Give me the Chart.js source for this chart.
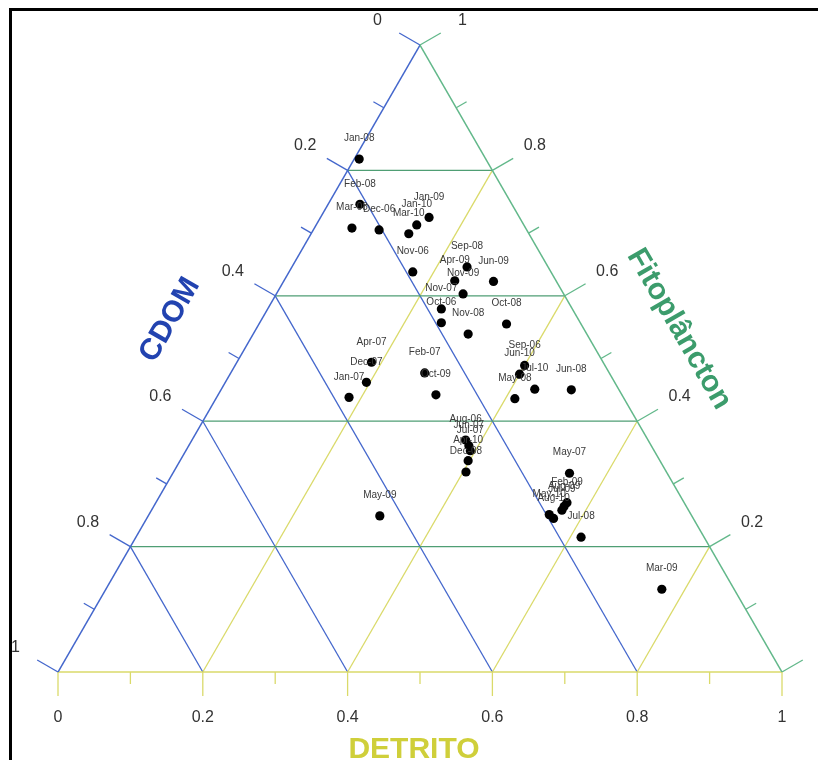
<!DOCTYPE html>
<html>
<head>
<meta charset="utf-8">
<script src="https://cdn.jsdelivr.net/npm/chart.js@4.4.0/dist/chart.umd.min.js"></script>
<style>
  html, body { margin: 0; padding: 0; background: #ffffff; }
  #wrap { width: 818px; height: 760px; }
</style>
</head>
<body>
<div id="wrap"><canvas id="tern" width="818" height="760"></canvas></div>
<script>
// Monthly samples: fractions of light absorption by CDOM, phytoplankton and detritus
const months = [
  'Jan-08','Feb-08','Mar-08','Dec-06','Mar-10','Jan-10','Jan-09','Nov-06',
  'Sep-08','Apr-09','Jun-09','Nov-09','Nov-07','Oct-06','Nov-08','Oct-08',
  'Apr-07','Dec-07','Jan-07','Feb-07','Oct-09','Sep-06','Jun-10','Jul-10',
  'May-08','Jun-08','Aug-06','Jun-07','Jul-07','Apr-10','Dec-08','May-07',
  'Feb-09','Aug-09','Jul-09','May-10','Aug-10','Jul-08','May-09','Mar-09'
];
const cdom = [
  0.175, 0.210, 0.240, 0.204, 0.166, 0.148, 0.125, 0.191,
  0.112, 0.140, 0.087, 0.139, 0.181, 0.192, 0.164, 0.103,
  0.320, 0.343, 0.379, 0.255, 0.257, 0.111, 0.125, 0.116,
  0.151, 0.066, 0.252, 0.252, 0.254, 0.265, 0.277, 0.135,
  0.162, 0.169, 0.175, 0.196, 0.193, 0.170, 0.431, 0.100
];
const fito = [
  0.818, 0.746, 0.708, 0.705, 0.699, 0.713, 0.725, 0.638,
  0.646, 0.624, 0.623, 0.603, 0.579, 0.557, 0.539, 0.555,
  0.494, 0.462, 0.438, 0.477, 0.442, 0.489, 0.475, 0.451,
  0.436, 0.450, 0.370, 0.361, 0.353, 0.337, 0.319, 0.317,
  0.270, 0.264, 0.258, 0.251, 0.245, 0.215, 0.249, 0.132
];
const detrito = [
  0.007, 0.044, 0.052, 0.091, 0.135, 0.139, 0.150, 0.171,
  0.242, 0.236, 0.290, 0.258, 0.240, 0.251, 0.297, 0.342,
  0.186, 0.195, 0.183, 0.268, 0.301, 0.400, 0.400, 0.433,
  0.413, 0.484, 0.378, 0.387, 0.393, 0.398, 0.404, 0.548,
  0.568, 0.567, 0.567, 0.553, 0.562, 0.615, 0.320, 0.768
];
const tickValues = [0, 0.2, 0.4, 0.6, 0.8, 1];
const tickLabels = ['0', '0.2', '0.4', '0.6', '0.8', '1'];
const minorValues = [0.1, 0.3, 0.5, 0.7, 0.9];

const H = Math.sqrt(3) / 2;
// ternary (detritus, phytoplankton) -> cartesian position in the unit triangle
function toXY(d, f) { return { x: d + f / 2, y: f * H }; }

const points = months.map((m, i) => toXY(detrito[i], fito[i]));

const BLUE = '#4467cc';
const GREEN = '#62b88a';
const GREEN_DARK = '#4f9e74';
const YELLOW = '#dada6a';
const TEXT = '#333333';

const ternaryPlugin = {
  id: 'ternary',
  beforeDatasetsDraw(chart) {
    const { ctx, scales } = chart;
    const px = (d, f) => {
      const p = toXY(d, f);
      return [scales.x.getPixelForValue(p.x), scales.y.getPixelForValue(p.y)];
    };
    const line = (a, b, color, w) => {
      ctx.beginPath();
      ctx.moveTo(a[0], a[1]);
      ctx.lineTo(b[0], b[1]);
      ctx.strokeStyle = color;
      ctx.lineWidth = w;
      ctx.stroke();
    };
    ctx.save();
    ctx.lineCap = 'butt';

    // page frame
    ctx.beginPath();
    ctx.moveTo(10.5, 800);
    ctx.lineTo(10.5, 9.5);
    ctx.lineTo(830, 9.5);
    ctx.strokeStyle = '#000';
    ctx.lineWidth = 3;
    ctx.stroke();

    const inner = [0.2, 0.4, 0.6, 0.8];
    // detritus grid (parallel to left edge)
    inner.forEach(d => line(px(d, 0), px(d, 1 - d), YELLOW, 1.3));
    // CDOM grid (parallel to right edge)
    inner.forEach(c => line(px(0, 1 - c), px(1 - c, 0), BLUE, 1.3));
    // phytoplankton grid (horizontal)
    inner.forEach(f => line(px(0, f), px(1 - f, f), GREEN_DARK, 1.3));

    // triangle edges
    line(px(0, 0), px(1, 0), YELLOW, 1.5);
    line(px(0, 0), px(0, 1), BLUE, 1.5);
    line(px(1, 0), px(0, 1), GREEN, 1.5);

    const L = [-Math.cos(Math.PI / 6), -0.5];
    const R = [Math.cos(Math.PI / 6), -0.5];
    const B = [0, 1];
    const tick = (p, dir, len, color) =>
      line(p, [p[0] + dir[0] * len, p[1] + dir[1] * len], color, 1.3);

    tickValues.forEach(v => {
      tick(px(0, 1 - v), L, 24, BLUE);      // CDOM on left edge
      tick(px(1 - v, v), R, 24, GREEN);     // phytoplankton on right edge
      tick(px(v, 0), B, 24, YELLOW);        // detritus on bottom edge
    });
    minorValues.forEach(v => {
      tick(px(0, 1 - v), L, 12, BLUE);
      tick(px(1 - v, v), R, 12, GREEN);
      tick(px(v, 0), B, 12, YELLOW);
    });

    // tick labels
    ctx.font = '16px "Liberation Sans", Arial, sans-serif';
    ctx.fillStyle = TEXT;
    ctx.textAlign = 'center';
    ctx.textBaseline = 'middle';
    const off = 49;
    tickValues.forEach((v, i) => {
      let p = px(0, 1 - v);
      ctx.fillText(tickLabels[i], p[0] + L[0] * off, p[1] + L[1] * off);
      p = px(1 - v, v);
      ctx.fillText(tickLabels[i], p[0] + R[0] * off, p[1] + R[1] * off);
      p = px(v, 0);
      ctx.fillText(tickLabels[i], p[0], p[1] + 46);
    });

    // axis titles
    ctx.font = 'bold 30px "Liberation Sans", Arial, sans-serif';
    const area = chart.chartArea;
    // CDOM along the left edge
    ctx.save();
    ctx.translate(area.left + 112, area.top + 275);
    ctx.rotate(-Math.PI / 3);
    ctx.fillStyle = '#2243b0';
    ctx.fillText('CDOM', 0, 0);
    ctx.restore();
    // Fitoplâncton along the right edge
    ctx.save();
    ctx.translate(area.left + 621, area.top + 284);
    ctx.rotate(Math.PI / 3);
    ctx.fillStyle = '#3c9c6c';
    ctx.fillText('Fitoplâncton', 0, 0);
    ctx.restore();
    // DETRITO under the base
    ctx.fillStyle = '#cfcf3a';
    ctx.fillText('DETRITO', (area.left + area.right) / 2 - 6, area.bottom + 78);

    ctx.restore();
  },
  afterDatasetsDraw(chart) {
    const { ctx } = chart;
    const meta = chart.getDatasetMeta(0);
    ctx.save();
    ctx.font = '10px "Liberation Sans", Arial, sans-serif';
    ctx.fillStyle = '#3a3a3a';
    ctx.textAlign = 'center';
    ctx.textBaseline = 'middle';
    meta.data.forEach((el, i) => {
      ctx.fillText(months[i], el.x, el.y - 20.5);
    });
    ctx.restore();
  }
};

new Chart(document.getElementById('tern'), {
  type: 'scatter',
  data: {
    datasets: [{
      data: points,
      pointRadius: 4.6,
      pointBackgroundColor: '#000',
      pointBorderColor: '#000',
      pointBorderWidth: 0
    }]
  },
  options: {
    responsive: false,
    animation: false,
    events: [],
    layout: { padding: { left: 58, right: 36, top: 45, bottom: 88 } },
    plugins: { legend: { display: false }, tooltip: { enabled: false } },
    scales: {
      x: { type: 'linear', min: 0, max: 1, display: false },
      y: { type: 'linear', min: 0, max: H, display: false }
    }
  },
  plugins: [ternaryPlugin]
});
</script>
</body>
</html>
